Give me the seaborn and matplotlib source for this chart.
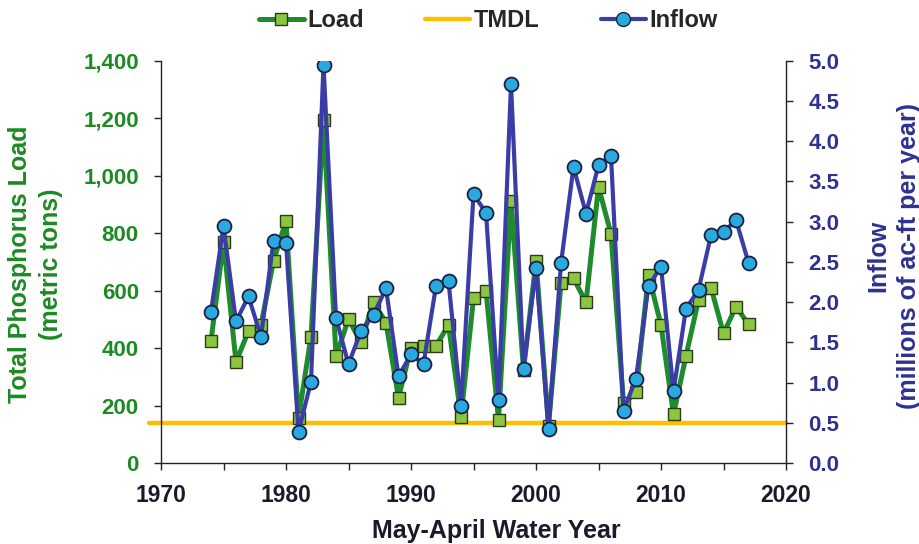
import matplotlib
matplotlib.use("Agg")
import matplotlib.pyplot as plt
from matplotlib.ticker import FuncFormatter, MultipleLocator
from matplotlib.lines import Line2D
import seaborn as sns
import pandas as pd

# Water years (May-April)
years = list(range(1974, 2018))

# Total phosphorus load, metric tons
load = [425, 770, 352, 459, 480, 703, 843, 156, 440, 1193,
        372, 500, 420, 561, 488, 227, 401, 408, 408, 480,
        161, 573, 600, 150, 913, 324, 704, 130, 625, 643,
        559, 961, 797, 208, 246, 654, 480, 169, 373, 567,
        610, 451, 544, 483]

# Inflow, millions of acre-feet per year
inflow = [1.88, 2.94, 1.76, 2.07, 1.57, 2.76, 2.74, 0.39, 1.01, 4.95,
          1.80, 1.23, 1.64, 1.84, 2.17, 1.08, 1.35, 1.23, 2.20, 2.26,
          0.71, 3.34, 3.11, 0.78, 4.71, 1.17, 2.42, 0.42, 2.48, 3.68,
          3.10, 3.70, 3.82, 0.65, 1.05, 2.20, 2.44, 0.89, 1.92, 2.15,
          2.83, 2.87, 3.02, 2.49]

# TMDL target, metric tons
tmdl = 140

green_line = "#1e8c2c"
green_face = "#8cc63e"
blue_line = "#3a3da6"
blue_face = "#29a9e0"
tmdl_color = "#ffbf00"
left_color = "#1d8a22"
right_color = "#2e3192"
dark = "#1a1a2a"

sns.set_theme(style="white")
plt.rcParams["font.family"] = ["Liberation Sans", "DejaVu Sans"]
plt.rcParams["font.weight"] = "bold"

df = pd.DataFrame({"year": years, "load": load, "inflow": inflow})

fig = plt.figure(figsize=(9.19, 5.44), dpi=100)
ax = fig.add_axes([161 / 919, 1 - 463 / 544, (786 - 161) / 919, (463 - 60.7) / 544])
ax2 = ax.twinx()

ax.axhline(tmdl, xmin=-0.02, xmax=1.0, color=tmdl_color, lw=3.2, zorder=1,
           clip_on=False)

sns.lineplot(data=df, x="year", y="load", ax=ax, color=green_line, lw=3.6,
             marker="s", markersize=9, markerfacecolor=green_face,
             markeredgecolor="#2a3a1a", markeredgewidth=1.0, zorder=3)
sns.lineplot(data=df, x="year", y="inflow", ax=ax2, color=blue_line, lw=3.0,
             marker="o", markersize=10, markerfacecolor=blue_face,
             markeredgecolor="#1a2240", markeredgewidth=1.3, zorder=4)

ax.set_xlim(1970, 2020)
ax.set_ylim(0, 1400)
ax2.set_ylim(0, 5.0)

ax.xaxis.set_major_locator(MultipleLocator(10))
ax.xaxis.set_minor_locator(MultipleLocator(5))
ax.yaxis.set_major_locator(MultipleLocator(200))
ax2.yaxis.set_major_locator(MultipleLocator(0.5))
ax.yaxis.set_major_formatter(FuncFormatter(lambda v, p: f"{int(v):,}"))
ax2.yaxis.set_major_formatter(FuncFormatter(lambda v, p: f"{v:.1f}"))

for a in (ax, ax2):
    a.spines["top"].set_visible(False)
    for s in ("left", "right", "bottom"):
        a.spines[s].set_color("#222222")
        a.spines[s].set_linewidth(1.0)
ax.spines["right"].set_visible(False)
ax2.spines["left"].set_visible(False)
ax2.spines["bottom"].set_visible(False)

ax.tick_params(axis="x", which="both", direction="out", length=5, width=1,
               colors="#222222", labelsize=16.5, pad=10, bottom=True)
ax.tick_params(axis="x", which="major", labelcolor=dark)
ax.tick_params(axis="y", direction="out", length=5, width=1, color="#222222",
               labelcolor=left_color, labelsize=16, pad=11, left=True)
ax2.tick_params(axis="y", direction="out", length=5, width=1, color="#222222",
                labelcolor=right_color, labelsize=16, pad=11, right=True)
for lbl in ax.get_xticklabels() + ax.get_yticklabels() + ax2.get_yticklabels():
    lbl.set_fontweight("bold")

ax.set_xlabel("May-April Water Year", fontsize=18, fontweight="bold",
              color=dark)
ax.xaxis.set_label_coords(0.536, -0.139)
ax.set_ylabel("Total Phosphorus Load\n(metric tons)", fontsize=18,
              fontweight="bold", color=left_color, linespacing=1.35)
ax.yaxis.set_label_coords(-0.157, 0.495)
ax2.set_ylabel("Inflow\n(millions of ac-ft per year)", fontsize=18,
               fontweight="bold", color=right_color, linespacing=1.35,
               rotation=90)
ax2.yaxis.set_label_coords(1.128, 0.515)
ax.grid(False)
ax2.grid(False)

handles = [
    Line2D([], [], color=green_line, lw=3.6, marker="s", markersize=9,
           markerfacecolor=green_face, markeredgecolor="#2a3a1a"),
    Line2D([], [], color=tmdl_color, lw=3.2),
    Line2D([], [], color=blue_line, lw=3.0, marker="o", markersize=10,
           markerfacecolor=blue_face, markeredgecolor="#1a2240"),
]
fig.legend(handles, ["Load", "TMDL", "Inflow"], loc="center",
           bbox_to_anchor=(0.531, 0.962), ncol=3, frameon=False,
           handlelength=1.9, handletextpad=0.15, columnspacing=2.6,
           prop={"weight": "bold", "size": 17})

fig.savefig("out.png", dpi=100)
